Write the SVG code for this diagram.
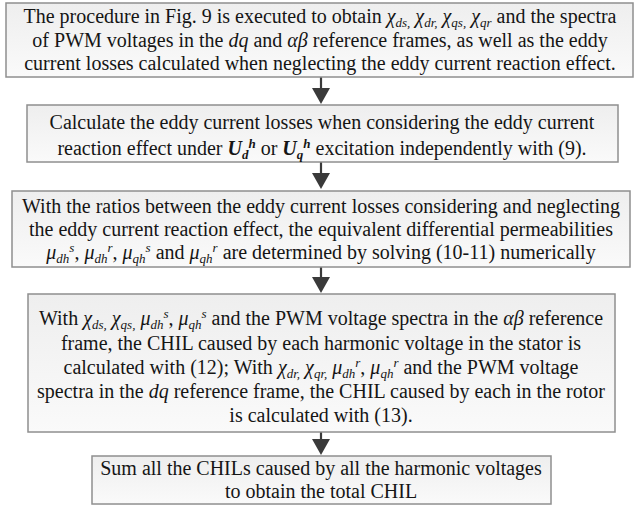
<svg xmlns="http://www.w3.org/2000/svg" width="636" height="506" viewBox="0 0 636 506">
  <defs>
    <linearGradient id="boxFill" x1="0" y1="0" x2="0" y2="1">
      <stop offset="0" stop-color="#eeeeee"/>
      <stop offset="1" stop-color="#fafafa"/>
    </linearGradient>
    <style>
      .box { fill: url(#boxFill); stroke: #8f8f8f; stroke-width: 1.5; }
      .t { font-family: "Liberation Serif", "Times New Roman", serif; font-size: 20px; fill: #151515; text-anchor: middle; }
      .i { font-style: italic; }
      .s { font-size: 13px; font-style: italic; }
      .bi { font-weight: bold; font-style: italic; }
      .bs { font-size: 13px; font-weight: bold; font-style: italic; }
      .arrow { stroke: #3a3a3a; stroke-width: 2.2; fill: none; }
      .ahead { fill: #3a3a3a; }
    </style>
  </defs>

  <!-- connectors: vertical arrows between the steps -->
  <g id="connectors">
    <line class="arrow" x1="321" y1="77" x2="321" y2="90"/>
    <path class="ahead" d="M312,88 L330,88 L321,104 z"/>
    <line class="arrow" x1="321" y1="162" x2="321" y2="175"/>
    <path class="ahead" d="M312,173 L330,173 L321,189 z"/>
    <line class="arrow" x1="321" y1="267" x2="321" y2="279"/>
    <path class="ahead" d="M312,277 L330,277 L321,293 z"/>
    <line class="arrow" x1="321" y1="432" x2="321" y2="441"/>
    <path class="ahead" d="M312,439 L330,439 L321,455 z"/>
  </g>

  <!-- step 1 -->
  <g id="step1">
    <rect class="box" x="6" y="3" width="627" height="74"/>
    <text class="t" x="320" y="23">The procedure in Fig. 9 is executed to obtain <tspan class="i">χ</tspan><tspan class="s" dy="4">ds,</tspan><tspan dy="-4"> </tspan><tspan class="i">χ</tspan><tspan class="s" dy="4">dr,</tspan><tspan dy="-4">  </tspan><tspan class="i">χ</tspan><tspan class="s" dy="4">qs,</tspan><tspan dy="-4"> </tspan><tspan class="i">χ</tspan><tspan class="s" dy="4">qr</tspan><tspan dy="-4"> and the spectra</tspan></text>
    <text class="t" x="320" y="47">of PWM voltages in the <tspan class="i">dq</tspan> and  <tspan class="i">αβ</tspan> reference frames, as well as the eddy</text>
    <text class="t" x="320" y="70">current losses calculated when neglecting the eddy current reaction effect.</text>
  </g>

  <!-- step 2 -->
  <g id="step2">
    <rect class="box" x="27" y="105" width="591" height="57"/>
    <text class="t" x="322" y="129">Calculate the eddy current losses when considering the eddy current</text>
    <text class="t" x="322" y="155">reaction effect under <tspan class="bi">U</tspan><tspan class="bs" dy="4">d</tspan><tspan class="bs" dy="-11">h</tspan><tspan dy="7"> or </tspan><tspan class="bi">U</tspan><tspan class="bs" dy="4">q</tspan><tspan class="bs" dy="-11">h</tspan><tspan dy="7"> excitation independently with (9).</tspan></text>
  </g>

  <!-- step 3 -->
  <g id="step3">
    <rect class="box" x="12" y="191" width="618" height="76"/>
    <text class="t" x="321" y="213">With the ratios between the eddy current losses considering and neglecting</text>
    <text class="t" x="321" y="236">the eddy current reaction effect, the equivalent differential permeabilities</text>
    <text class="t" x="321" y="259"><tspan class="i">μ</tspan><tspan class="s" dy="4">dh</tspan><tspan class="s" dy="-11">s</tspan><tspan dy="7">, </tspan><tspan class="i">μ</tspan><tspan class="s" dy="4">dh</tspan><tspan class="s" dy="-11">r</tspan><tspan dy="7">, </tspan><tspan class="i">μ</tspan><tspan class="s" dy="4">qh</tspan><tspan class="s" dy="-11">s</tspan><tspan dy="7"> and </tspan><tspan class="i">μ</tspan><tspan class="s" dy="4">qh</tspan><tspan class="s" dy="-11">r</tspan><tspan dy="7"> are determined by solving (10-11) numerically</tspan></text>
  </g>

  <!-- step 4 -->
  <g id="step4">
    <rect class="box" x="28" y="294" width="587" height="138"/>
    <text class="t" x="321" y="325">With <tspan class="i">χ</tspan><tspan class="s" dy="4">ds,</tspan><tspan dy="-4"> </tspan><tspan class="i">χ</tspan><tspan class="s" dy="4">qs,</tspan><tspan dy="-4"> </tspan><tspan class="i">μ</tspan><tspan class="s" dy="4">dh</tspan><tspan class="s" dy="-11">s</tspan><tspan dy="7">, </tspan><tspan class="i">μ</tspan><tspan class="s" dy="4">qh</tspan><tspan class="s" dy="-11">s</tspan><tspan dy="7"> and the PWM voltage spectra in the </tspan><tspan class="i">αβ</tspan> reference</text>
    <text class="t" x="321" y="350">frame, the CHIL caused by each harmonic voltage in the stator is</text>
    <text class="t" x="321" y="374">calculated with (12);  With <tspan class="i">χ</tspan><tspan class="s" dy="4">dr,</tspan><tspan dy="-4"> </tspan><tspan class="i">χ</tspan><tspan class="s" dy="4">qr,</tspan><tspan dy="-4"> </tspan><tspan class="i">μ</tspan><tspan class="s" dy="4">dh</tspan><tspan class="s" dy="-11">r</tspan><tspan dy="7">, </tspan><tspan class="i">μ</tspan><tspan class="s" dy="4">qh</tspan><tspan class="s" dy="-11">r</tspan><tspan dy="7"> and the PWM voltage</tspan></text>
    <text class="t" x="321" y="398">spectra in the <tspan class="i">dq</tspan> reference frame, the CHIL caused by each  in the rotor</text>
    <text class="t" x="321" y="422">is calculated with (13).</text>
  </g>

  <!-- step 5 -->
  <g id="step5">
    <rect class="box" x="92" y="456" width="459" height="48"/>
    <text class="t" x="321" y="475">Sum all the CHILs caused by all the harmonic voltages</text>
    <text class="t" x="321" y="498">to obtain the total CHIL</text>
  </g>
</svg>
